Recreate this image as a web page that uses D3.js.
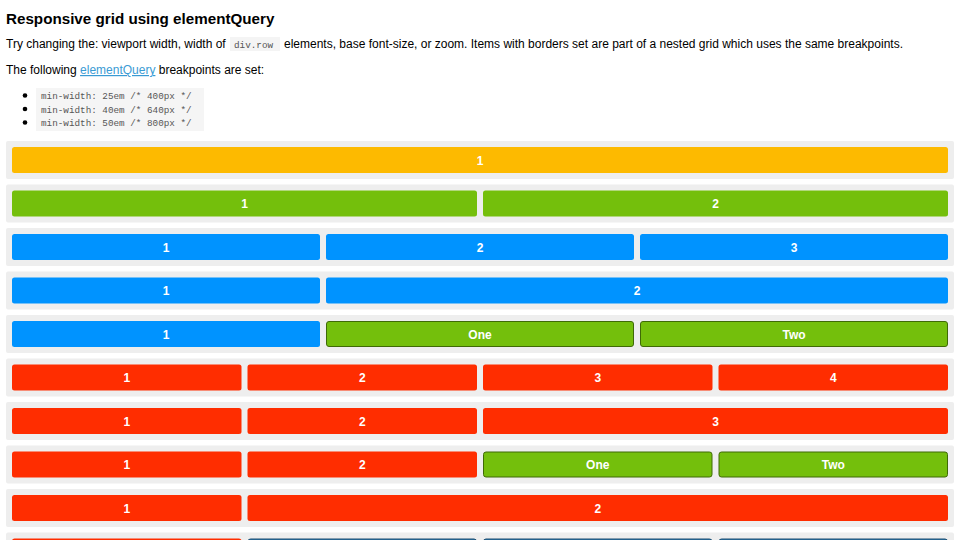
<!DOCTYPE html>
<html><head><meta charset="utf-8">
<script src="https://cdn.jsdelivr.net/npm/d3@7"></script>
<style>body{margin:0;background:#fff}svg{display:block}</style></head>
<body><svg id="c" width="960" height="540"></svg>
<script>
const title = "Responsive grid using elementQuery";
const breakpoints = ["min-width: 25em /* 400px */","min-width: 40em /* 640px */","min-width: 50em /* 800px */"];
// each row: list of [span, colour key, label, nested]
const rows = [
  [[12,"y","1",0]],
  [[6,"g","1",0],[6,"g","2",0]],
  [[4,"b","1",0],[4,"b","2",0],[4,"b","3",0]],
  [[4,"b","1",0],[8,"b","2",0]],
  [[4,"b","1",0],[4,"g","One",1],[4,"g","Two",1]],
  [[3,"r","1",0],[3,"r","2",0],[3,"r","3",0],[3,"r","4",0]],
  [[3,"r","1",0],[3,"r","2",0],[6,"r","3",0]],
  [[3,"r","1",0],[3,"r","2",0],[3,"g","One",1],[3,"g","Two",1]],
  [[3,"r","1",0],[9,"r","2",0]],
  [[3,"r","",0],[3,"d","",1],[3,"d","",1],[3,"d","",1]]
];
const colors = {y:"#fdba00",g:"#74bf0c",b:"#0093ff",r:"#ff2d00",d:"#2a76ab"};
const borders = {g:"#3f6a06",d:"#1d4d70"};
const svg = d3.select("#c");
const F = "Liberation Sans, Arial, sans-serif";
const M = "'Liberation Mono', 'Courier New', monospace";
svg.append("text").attr("x",6).attr("y",24).attr("font-family",F).attr("font-size",15.2).attr("font-weight","bold").text(title);
svg.append("text").attr("x",6).attr("y",48).attr("font-family",F).attr("font-size",12).text("Try changing the: viewport width, width of");
svg.append("rect").attr("x",230).attr("y",37).attr("width",50).attr("height",14).attr("fill","#f4f4f4");
svg.append("text").attr("x",234).attr("y",48).attr("font-family",M).attr("font-size",9.3).attr("fill","#555").text("div.row");
svg.append("text").attr("x",284).attr("y",48).attr("font-family",F).attr("font-size",12).text("elements, base font-size, or zoom. Items with borders set are part of a nested grid which uses the same breakpoints.");
const p2 = svg.append("text").attr("x",6).attr("y",74).attr("font-family",F).attr("font-size",12);
p2.append("tspan").text("The following ");
p2.append("tspan").attr("fill","#3a9bd4").attr("text-decoration","underline").text("elementQuery");
p2.append("tspan").text(" breakpoints are set:");
svg.append("rect").attr("x",36).attr("y",88).attr("width",168).attr("height",43).attr("fill","#f5f5f5");
breakpoints.forEach((b,i)=>{
  const y = 99+i*13.5;
  svg.append("circle").attr("cx",25).attr("cy",y-3.5).attr("r",2.3).attr("fill","#000");
  svg.append("text").attr("x",41).attr("y",y).attr("font-family",M).attr("font-size",9.3).attr("fill","#555").text(b);
});
const x = d3.scaleLinear().domain([0,12]).range([12,954]);
const yRow = d3.scaleLinear().domain([0,1]).range([141,184.5]);
rows.forEach((row,i)=>{
  const top = yRow(i);
  const g = svg.append("g");
  g.append("rect").attr("x",6).attr("y",top).attr("width",948).attr("height",38).attr("rx",2).attr("fill","#eeeeee");
  let s = 0;
  row.forEach(([span,c,label,nested])=>{
    const x0 = x(s), x1 = x(s+span)-6;
    g.append("rect").attr("x",x0+(nested?0.5:0)).attr("y",top+6+(nested?0.5:0))
      .attr("width",x1-x0-(nested?1:0)).attr("height",26-(nested?1:0)).attr("rx",2.5)
      .attr("fill",colors[c]).attr("stroke",nested?borders[c]:"none");
    if (label) g.append("text").attr("x",(x0+x1)/2).attr("y",top+23.5).attr("text-anchor","middle")
      .attr("font-family",F).attr("font-size",12).attr("font-weight","bold").attr("fill","#fff").text(label);
    s += span;
  });
});
</script></body></html>
